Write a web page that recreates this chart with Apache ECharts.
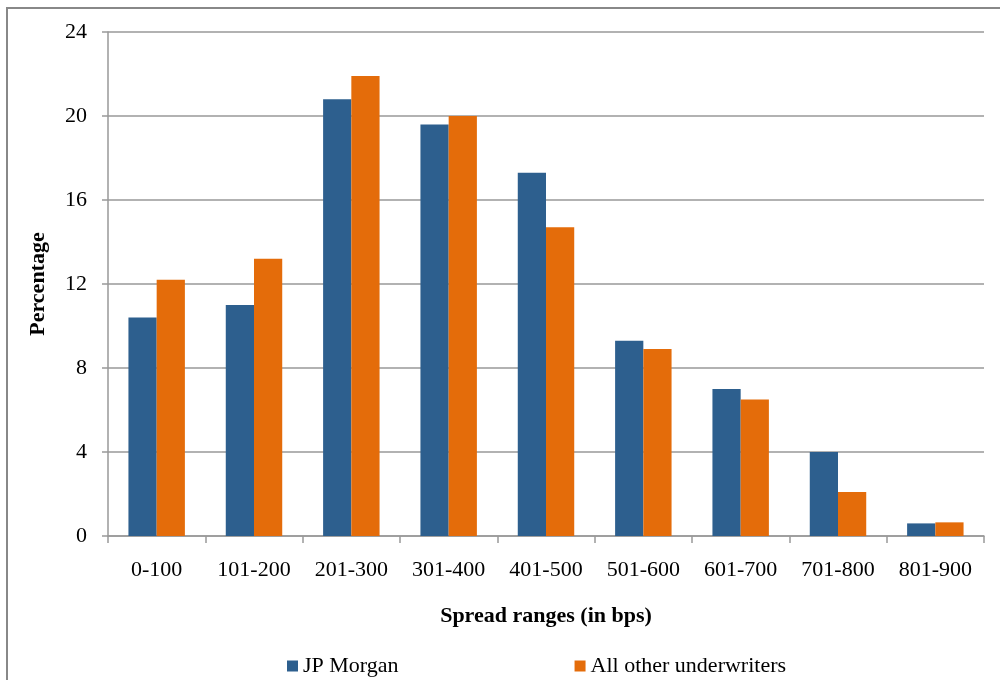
<!DOCTYPE html>
<html>
<head>
<meta charset="utf-8">
<script src="https://cdn.jsdelivr.net/npm/echarts@6/dist/echarts.min.js"></script>
<style>html,body{margin:0;padding:0;background:#fff}#c{width:1000px;height:680px}</style>
</head>
<body>
<div id="c"></div>
<script>
var categories = ['0-100','101-200','201-300','301-400','401-500','501-600','601-700','701-800','801-900'];
var jpMorgan = [10.4, 11.0, 20.8, 19.6, 17.3, 9.3, 7.0, 4.0, 0.6];
var otherUnderwriters = [12.2, 13.2, 21.9, 20.0, 14.7, 8.9, 6.5, 2.1, 0.65];
var seriesNames = ['JP Morgan', 'All other underwriters'];
var yMin = 0, yMax = 24, yStep = 4;

var chart = echarts.init(document.getElementById('c'));
var serif = 'Liberation Serif, Times New Roman, serif';
var fs = 22;
chart.setOption({
  animation: false,
  backgroundColor: '#fff',
  textStyle: { fontFamily: serif },
  graphic: [{
    type: 'rect', shape: { x: 7, y: 8, width: 1000, height: 700 },
    style: { fill: 'none', stroke: '#888', lineWidth: 2 }, silent: true
  }],
  grid: { left: 108, right: 16, top: 32, bottom: 144, containLabel: false },
  legend: {
    data: seriesNames, left: 282, top: 650, itemWidth: 11, itemHeight: 11,
    itemGap: 176, icon: 'rect',
    textStyle: { fontFamily: serif, fontSize: fs, color: '#000' }
  },
  xAxis: {
    type: 'category', data: categories,
    name: 'Spread ranges (in bps)', nameLocation: 'middle', nameGap: 69,
    nameTextStyle: { fontFamily: serif, fontSize: fs, fontWeight: 'bold', color: '#000' },
    axisLine: { lineStyle: { color: '#999', width: 1.5 } },
    axisTick: { show: true, length: 7, lineStyle: { color: '#999', width: 1.5 } },
    axisLabel: { fontFamily: serif, fontSize: fs, color: '#000', margin: 23 }
  },
  yAxis: {
    type: 'value', min: yMin, max: yMax, interval: yStep,
    name: 'Percentage', nameLocation: 'middle', nameGap: 59, nameRotate: 90,
    nameTextStyle: { fontFamily: serif, fontSize: fs, fontWeight: 'bold', color: '#000' },
    axisLine: { show: true, lineStyle: { color: '#999', width: 1.5 } },
    axisTick: { show: true, length: 6, lineStyle: { color: '#999', width: 1.5 } },
    axisLabel: { fontFamily: serif, fontSize: fs, color: '#000', margin: 21 },
    splitLine: { lineStyle: { color: '#999', width: 1.5 } }
  },
  series: [
    { name: seriesNames[0], type: 'bar', data: jpMorgan, barGap: '0%', barCategoryGap: '42%',
      itemStyle: { color: '#2D5F8E' } },
    { name: seriesNames[1], type: 'bar', data: otherUnderwriters, barGap: '0%', barCategoryGap: '42%',
      itemStyle: { color: '#E46C0A' } }
  ]
});
</script>
</body>
</html>
